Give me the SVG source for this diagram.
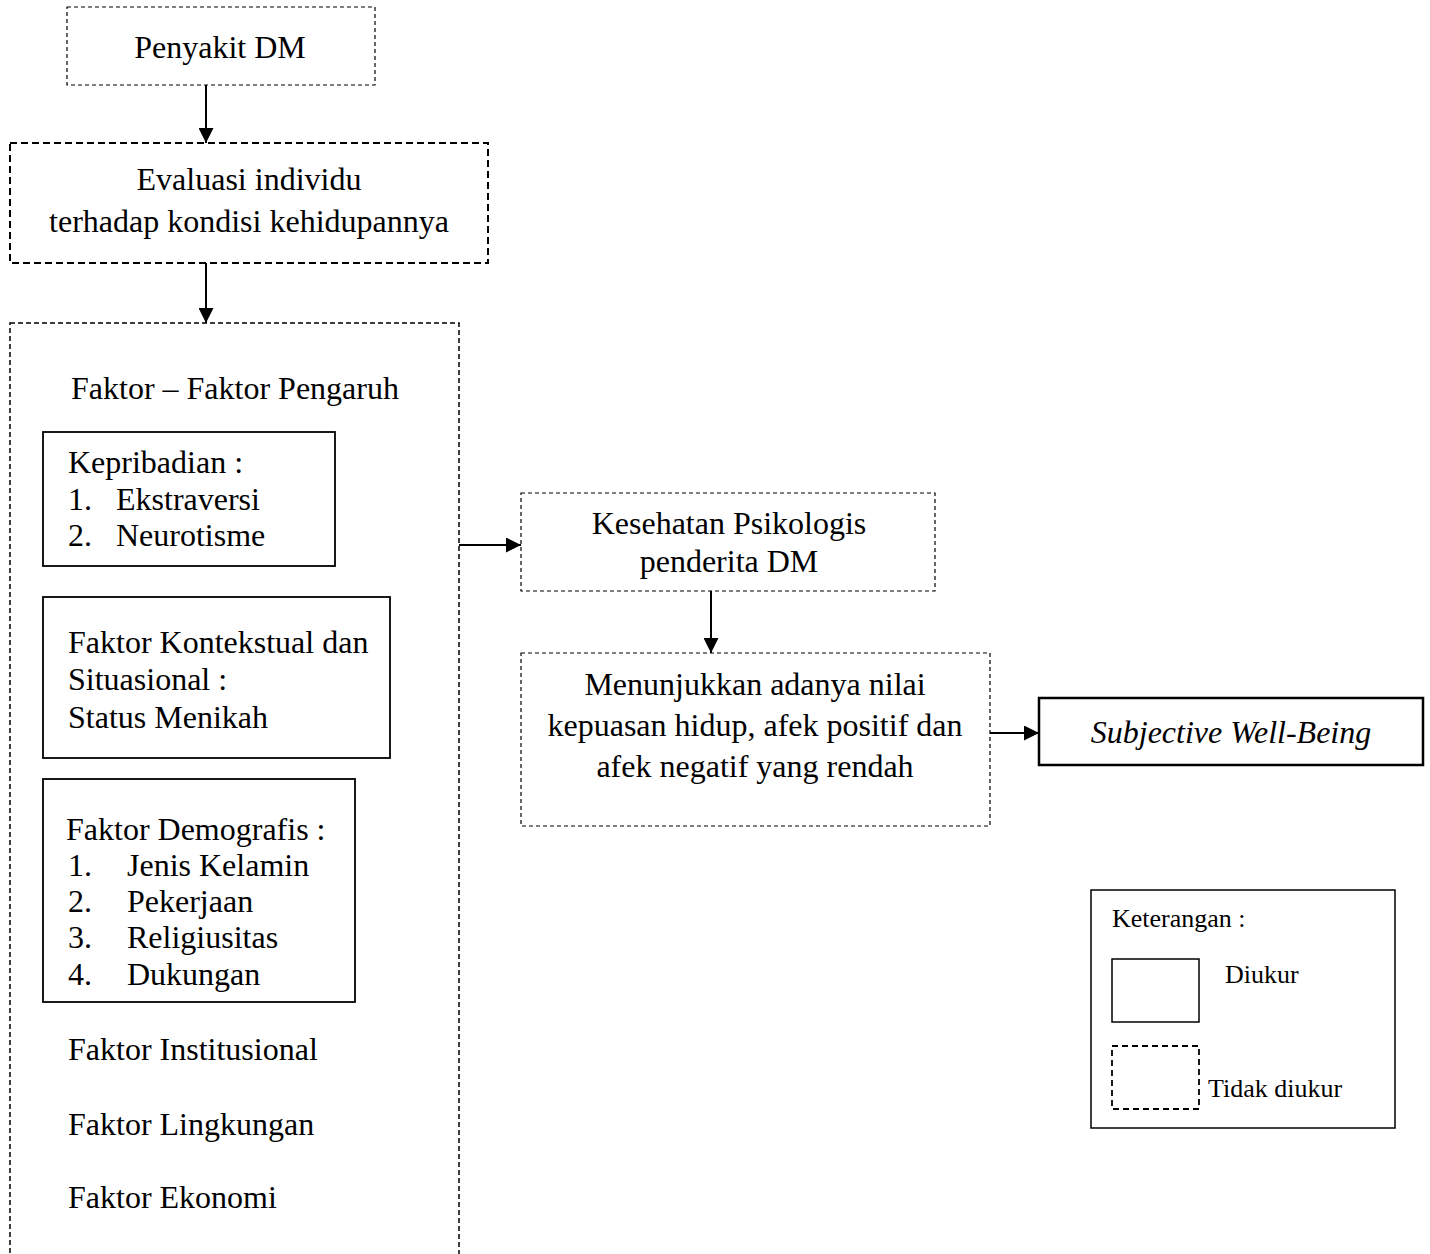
<svg xmlns="http://www.w3.org/2000/svg" width="1430" height="1254" viewBox="0 0 1430 1254">
<style>
text{font-family:"Liberation Serif","Times New Roman",serif;font-size:32px;fill:#000}
.c{text-anchor:middle}
.lg{font-size:26px}
.it{font-style:italic}
.solid{fill:#fff;stroke:#000;stroke-width:1.8}
.d1{fill:none;stroke:#000;stroke-width:1.2;stroke-dasharray:4 3}
.d2{fill:none;stroke:#000;stroke-width:2;stroke-dasharray:7 4}
.d3{fill:none;stroke:#000;stroke-width:1.5;stroke-dasharray:5 3}
.conn{stroke:#000;stroke-width:2;fill:none}
</style>
<defs>
<marker id="ah" viewBox="0 0 10 10" refX="10" refY="5" markerWidth="7.5" markerHeight="7.5" orient="auto" markerUnits="strokeWidth">
<path d="M0,0 L10,5 L0,10 z" fill="#000"/>
</marker>
</defs>
<rect width="1430" height="1254" fill="#fff"/>
<g id="n-penyakit">
<rect class="d1" x="67" y="7" width="308" height="78"/>
<text class="c" x="220" y="58">Penyakit DM</text>
</g>
<g id="n-evaluasi">
<rect class="d2" x="10" y="143" width="478" height="120"/>
<text class="c" x="249" y="190">Evaluasi individu</text>
<text class="c" x="249" y="232">terhadap kondisi kehidupannya</text>
</g>
<g id="n-faktor">
<rect class="d3" x="10" y="323" width="449" height="960"/>
<text x="71" y="399">Faktor – Faktor Pengaruh</text>
<text x="68" y="1060">Faktor Institusional</text>
<text x="68" y="1135">Faktor Lingkungan</text>
<text x="68" y="1208">Faktor Ekonomi</text>
</g>
<g id="n-kepribadian">
<rect class="solid" x="43" y="432" width="292" height="134"/>
<text x="68" y="473">Kepribadian :</text>
<text x="68" y="510">1.</text><text x="116" y="510">Ekstraversi</text>
<text x="68" y="546">2.</text><text x="116" y="546">Neurotisme</text>
</g>
<g id="n-kontekstual">
<rect class="solid" x="43" y="597" width="347" height="161"/>
<text x="68" y="653">Faktor Kontekstual dan</text>
<text x="68" y="690">Situasional :</text>
<text x="68" y="728">Status Menikah</text>
</g>
<g id="n-demografis">
<rect class="solid" x="43" y="779" width="312" height="223"/>
<text x="66" y="840">Faktor Demografis :</text>
<text x="68" y="876">1.</text><text x="127" y="876">Jenis Kelamin</text>
<text x="68" y="912">2.</text><text x="127" y="912">Pekerjaan</text>
<text x="68" y="948">3.</text><text x="127" y="948">Religiusitas</text>
<text x="68" y="985">4.</text><text x="127" y="985">Dukungan</text>
</g>
<g id="n-kesehatan">
<rect class="d1" x="521" y="493" width="414" height="98"/>
<text class="c" x="729" y="534">Kesehatan Psikologis</text>
<text class="c" x="729" y="572">penderita DM</text>
</g>
<g id="n-menunjukkan">
<rect class="d1" x="521" y="653" width="469" height="173"/>
<text class="c" x="755" y="695">Menunjukkan adanya nilai</text>
<text class="c" x="755" y="736">kepuasan hidup, afek positif dan</text>
<text class="c" x="755" y="777">afek negatif yang rendah</text>
</g>
<g id="n-swb">
<rect class="solid" x="1039" y="698" width="384" height="67" style="stroke-width:2.5"/>
<text class="c it" x="1231" y="743">Subjective Well-Being</text>
</g>
<g id="n-legend">
<rect class="solid" x="1091" y="890" width="304" height="238" style="stroke-width:1.5"/>
<text class="lg" x="1112" y="927">Keterangan :</text>
<rect class="solid" x="1112" y="959" width="87" height="63" style="stroke-width:1.5"/>
<text class="lg" x="1225" y="983">Diukur</text>
<rect x="1112" y="1046" width="87" height="63" style="fill:none;stroke:#000;stroke-width:1.8;stroke-dasharray:6 4"/>
<text class="lg" x="1208" y="1097">Tidak diukur</text>
</g>
<g id="connectors">
<line class="conn" x1="206" y1="85" x2="206" y2="143" marker-end="url(#ah)"/>
<line class="conn" x1="206" y1="263" x2="206" y2="323" marker-end="url(#ah)"/>
<line class="conn" x1="459" y1="545" x2="521" y2="545" marker-end="url(#ah)"/>
<line class="conn" x1="711" y1="591" x2="711" y2="653" marker-end="url(#ah)"/>
<line class="conn" x1="990" y1="733" x2="1039" y2="733" marker-end="url(#ah)"/>
</g>
</svg>
